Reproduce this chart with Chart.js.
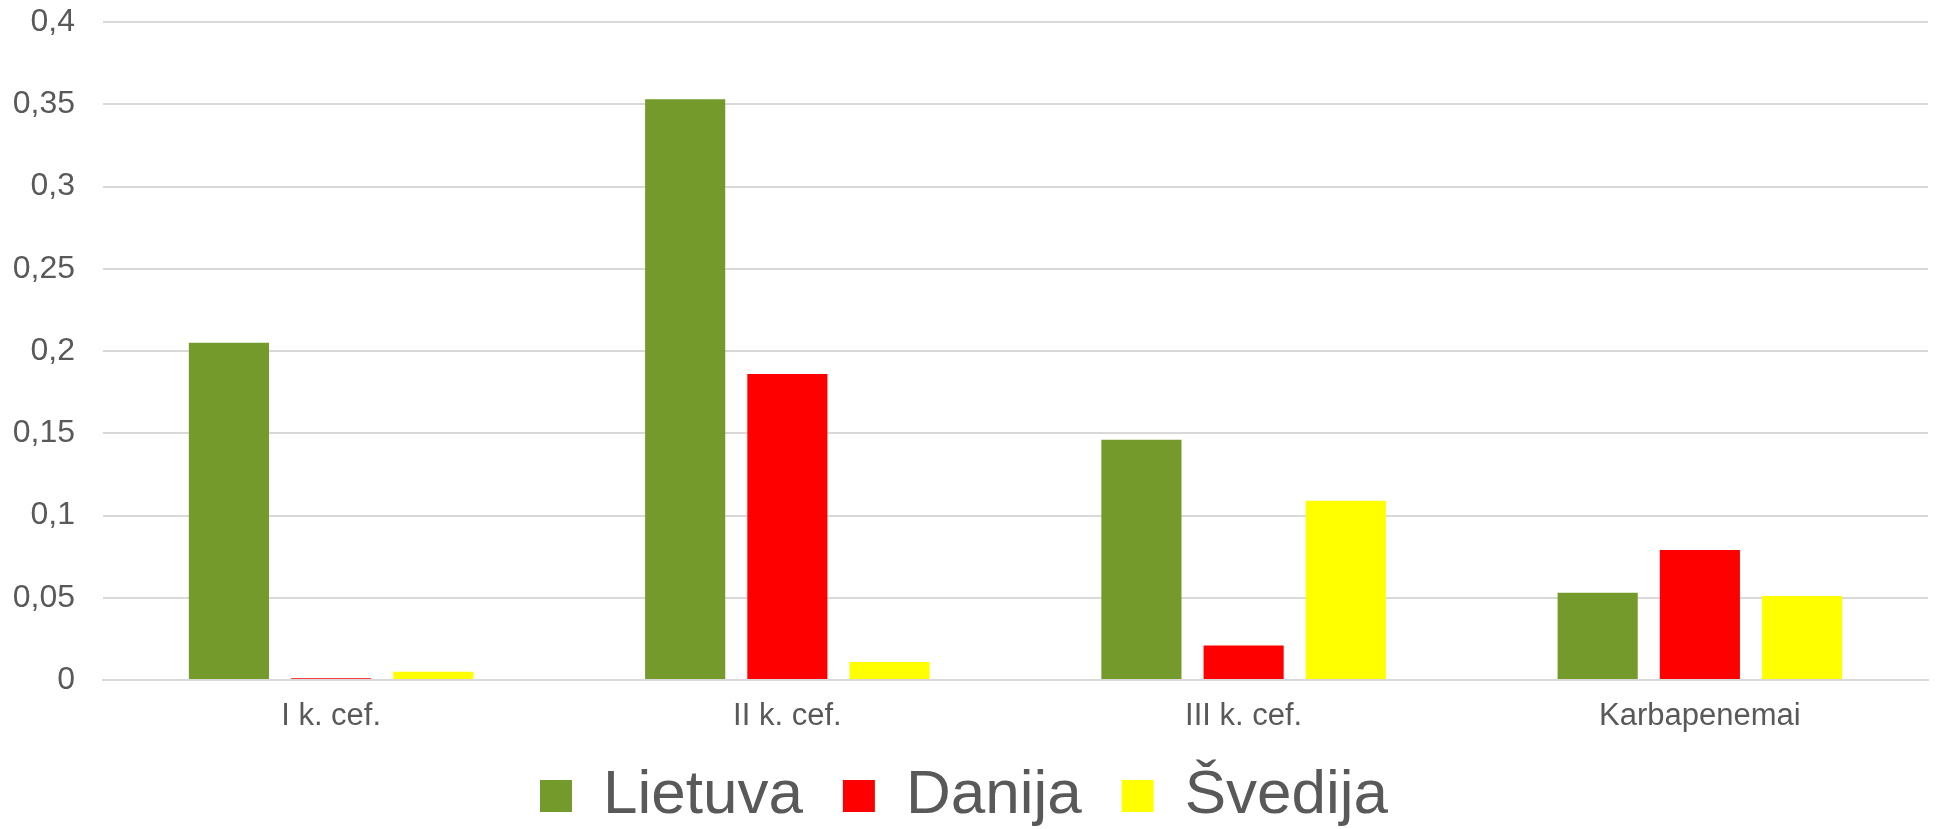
<!DOCTYPE html>
<html lang="lt">
<head>
    <meta charset="UTF-8">
    <title>Cefalosporinai ir karbapenemai</title>
    <script src="https://cdn.jsdelivr.net/npm/chart.js"></script>
    <style>
        html, body {
            margin: 0;
            padding: 0;
            background: #ffffff;
        }
        #chart-box {
            width: 1936px;
            height: 829px;
        }
    </style>
</head>
<body>
    <div id="chart-box">
        <canvas id="usageChart"></canvas>
    </div>

    <script>
        const categories = ['I k. cef.', 'II k. cef.', 'III k. cef.', 'Karbapenemai'];
        const lietuva = [0.205, 0.353, 0.146, 0.053];
        const danija = [0.001, 0.186, 0.021, 0.079];
        const svedija = [0.005, 0.011, 0.109, 0.051];

        const textColor = '#595959';
        const gridColor = '#d9d9d9';
        const fontName = 'Liberation Sans, Arial, sans-serif';

        // the x axis box is kept short so the legend sits close; let its labels draw below it
        const unclipXLabels = {
            id: 'unclipXLabels',
            afterLayout(chart) {
                chart.scales.x.bottom = chart.height;
            }
        };

        const ctx = document.getElementById('usageChart').getContext('2d');
        const usageChart = new Chart(ctx, {
            type: 'bar',
            data: {
                labels: categories,
                datasets: [
                    { label: 'Lietuva', data: lietuva, backgroundColor: '#739A2B' },
                    { label: 'Danija', data: danija, backgroundColor: '#FF0000' },
                    { label: 'Švedija', data: svedija, backgroundColor: '#FFFF00' }
                ]
            },
            options: {
                responsive: true,
                maintainAspectRatio: false,
                animation: false,
                categoryPercentage: 0.672,
                barPercentage: 0.784,
                layout: {
                    padding: { top: 22, right: 8, left: 0, bottom: 0 }
                },
                plugins: {
                    tooltip: { enabled: false },
                    legend: {
                        position: 'bottom',
                        maxHeight: 104,
                        labels: {
                            color: textColor,
                            boxWidth: 32,
                            boxHeight: 32,
                            padding: 40,
                            font: { family: fontName, size: 62, lineHeight: 1 }
                        }
                    }
                },
                scales: {
                    x: {
                        afterFit: function (scale) {
                            scale.height = 45;
                        },
                        grid: { display: false, drawTicks: false },
                        border: { display: true, color: gridColor, width: 2 },
                        ticks: {
                            color: textColor,
                            padding: 18,
                            font: { family: fontName, size: 31 }
                        }
                    },
                    y: {
                        min: 0,
                        max: 0.4,
                        afterFit: function (scale) {
                            scale.width = 103;
                            scale.paddingTop = 0;
                            scale.paddingBottom = 0;
                        },
                        grid: { color: gridColor, lineWidth: 2, drawTicks: false },
                        border: { display: false },
                        ticks: {
                            stepSize: 0.05,
                            color: textColor,
                            padding: 28,
                            font: { family: fontName, size: 32 },
                            callback: function (value) {
                                return Number(value.toFixed(2)).toString().replace('.', ',');
                            }
                        }
                    }
                }
            },
            plugins: [unclipXLabels]
        });
    </script>
</body>
</html>
